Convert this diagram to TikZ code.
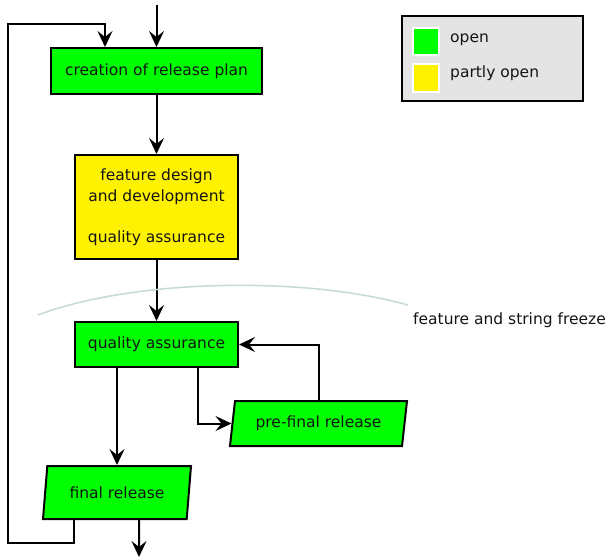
\documentclass[tikz,border=0pt]{standalone}
\usepackage{fontspec}
\setmainfont{DejaVu Sans}
\usepackage{tikz}
\usetikzlibrary{shapes.geometric,arrows.meta}
\definecolor{freezeline}{RGB}{200,218,218}
\definecolor{legendbg}{RGB}{228,228,228}
\definecolor{textgray}{RGB}{20,20,20}

\begin{document}
\begin{tikzpicture}[
  x=1pt, y=-1pt,
  font=\fontsize{15.5}{20.5}\selectfont,
  text=textgray,
  >={Stealth[length=16pt,width=15pt,inset=6pt]},
  flow/.style={line width=2pt,->},
  mybox/.style={
    rectangle,
    draw,
    line width=2pt,
    fill=green,
    inner sep=0pt
  },
  mypara/.style={
    trapezium,
    trapezium stretches body,
    draw,
    line width=2pt,
    fill=green,
    inner sep=0pt
  }
]
\useasboundingbox (0,0) rectangle (607,557);
\node[mybox,minimum width=211pt,minimum height=46pt] (plan) at (156.5,71) {creation of release plan};
\node[mybox,fill=yellow,minimum width=163pt,minimum height=104pt,align=center] (devel) at (156.5,207)
  {feature design\\and development\\ \\quality assurance};
\node[mybox,minimum width=163pt,minimum height=45pt] (qa) at (156.5,344.5) {quality assurance};
\node[mypara,trapezium left angle=71.6,trapezium right angle=108.4,minimum width=177pt,minimum height=45pt] (prefinal) at (318.5,423.5) {pre-final release};
\node[mypara,trapezium left angle=70.3,trapezium right angle=109.7,minimum width=148pt,minimum height=53pt] (final) at (117,492.5) {final release};
\coordinate (in) at (156.5,5);
\coordinate (out) at (139,557);
\coordinate (loopbl) at (8,543);
\coordinate (looptl) at (8,24);
\draw[flow] (in) -- (plan);
\draw[flow] (plan) -- (devel);
\draw[flow] (devel) -- (qa);
\draw[flow] (qa.south -| final.north) -- (final.north);
\draw[flow] ([xshift=41.5pt]qa.south) |- (prefinal.west);
\draw[flow] (prefinal.north) |- (qa.east);
\draw[flow] ([xshift=22pt]final.south) -- (out);
\draw[flow] ([xshift=-43pt]final.south) |- (loopbl) -- (looptl) -| ([xshift=-51.5pt]plan.north);
\draw[freezeline,line width=1.6pt] (38,315) .. controls (130,280) and (300,275) .. (408,305);
\node[anchor=base west,inner sep=0pt] (freeze) at (413,324) {feature and string freeze};
\node[draw,line width=2pt,fill=legendbg,minimum width=181pt,minimum height=85pt,inner sep=0pt] (legend) at (492.5,58.5) {};
\node[draw=white,line width=1.5pt,fill=green,minimum width=26pt,minimum height=27pt,inner sep=0pt] (opensq) at (426,41.5) {};
\node[draw=white,line width=1.5pt,fill=yellow,minimum width=26pt,minimum height=28pt,inner sep=0pt] (partsq) at (426,78) {};
\node[anchor=base west,inner sep=0pt] (opentxt) at (450,42) {open};
\node[anchor=base west,inner sep=0pt] (parttxt) at (450,77) {partly open};
\end{tikzpicture}
\end{document}
